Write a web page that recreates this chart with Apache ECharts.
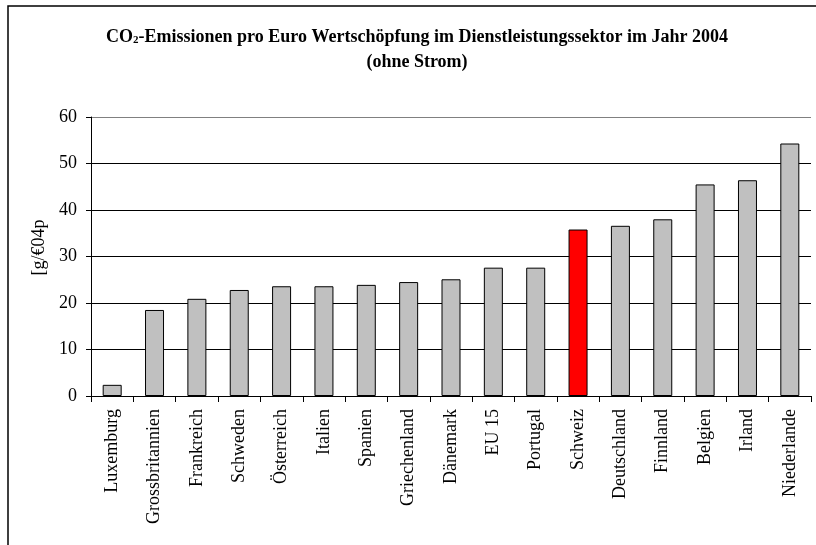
<!DOCTYPE html>
<html><head><meta charset="utf-8">
<script src="https://cdn.jsdelivr.net/npm/echarts@6/dist/echarts.min.js"></script>
<style>html,body{margin:0;padding:0;background:#fff}#c{width:816px;height:545px}</style>
</head><body><div id="c"></div>
<script>
const categories = ["Luxemburg","Grossbritannien","Frankreich","Schweden","Österreich","Italien","Spanien","Griechenland","Dänemark","EU 15","Portugal","Schweiz","Deutschland","Finnland","Belgien","Irland","Niederlande"];
const values = [2.4,18.5,20.9,22.8,23.6,23.6,23.9,24.5,25.1,27.6,27.6,35.8,36.6,38.0,45.5,46.4,54.3];
const highlight = "Schweiz";
const yTicks = [0,10,20,30,40,50,60];
const serif = "'Liberation Serif','Times New Roman',serif";

const chart = echarts.init(document.getElementById('c'), null, {renderer:'canvas'});
chart.setOption({
  animation:false,
  backgroundColor:'#fff',
  graphic:[
    {type:'rect', shape:{x:8,y:6,width:900,height:700}, style:{fill:'none',stroke:'#000',lineWidth:1.5}, silent:true},
    {type:'text', x:417, y:37, style:{
      text:'{b|CO}{s|2}{b|-Emissionen pro Euro Wertschöpfung im Dienstleistungssektor im Jahr 2004}',
      align:'center', verticalAlign:'middle',
      rich:{ b:{fontFamily:serif,fontWeight:'bold',fontSize:18,fill:'#000'},
             s:{fontFamily:serif,fontWeight:'bold',fontSize:11,fill:'#000',padding:[7,0,0,0]} }
    }},
    {type:'text', x:417, y:62, style:{text:'(ohne Strom)', align:'center', verticalAlign:'middle',
      font:"bold 18px 'Liberation Serif',serif", fill:'#000'}}
  ],
  grid:{left:91,right:5,top:117,bottom:149,containLabel:false},
  xAxis:{
    type:'category', data:categories, boundaryGap:true,
    axisLine:{lineStyle:{color:'#000',width:1}},
    axisTick:{show:true,alignWithLabel:false,length:6,lineStyle:{color:'#000'}},
    axisLabel:{rotate:90,interval:0,margin:13,fontFamily:serif,fontSize:18,color:'#000'}
  },
  yAxis:{
    type:'value', min:0, max:60, interval:10,
    name:'[g/€04p', nameLocation:'middle', nameGap:42, nameRotate:90,
    nameTextStyle:{fontFamily:serif,fontSize:18,color:'#000',padding:[0,0,0,18]},
    axisLine:{show:true,lineStyle:{color:'#000',width:1}},
    axisTick:{show:true,length:5,lineStyle:{color:'#000'}},
    axisLabel:{fontFamily:serif,fontSize:18,color:'#000',margin:14},
    splitLine:{show:true,lineStyle:{color:yTicks.map((t,i)=> i===yTicks.length-1 ? '#808080' : '#000'),width:1}}
  },
  series:[{
    type:'bar', barWidth:19,
    data:values.map((v,i)=>({value:v,itemStyle:{color: categories[i]===highlight ? '#FF0000' : '#C0C0C0'}})),
    itemStyle:{borderColor:'#000',borderWidth:1}
  }]
});
</script></body></html>
